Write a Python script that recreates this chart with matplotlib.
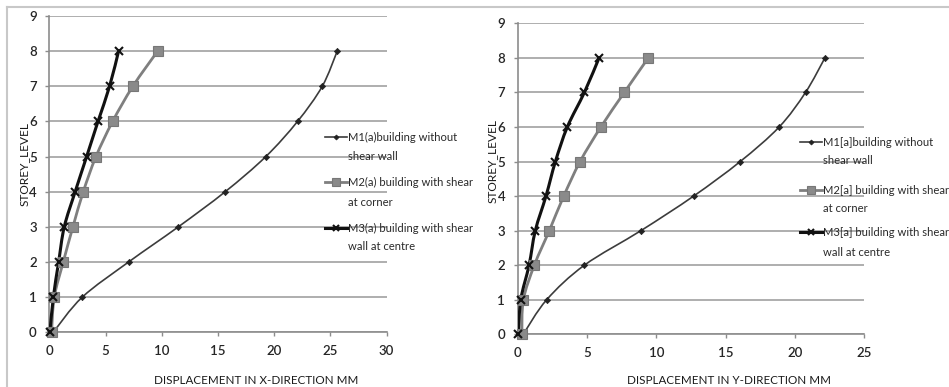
import matplotlib.pyplot as plt
import numpy as np
from matplotlib.lines import Line2D
from matplotlib.patches import PathPatch
from matplotlib.path import Path

plt.rcParams['font.family'] = ['Lato', 'DejaVu Sans']

levels = [0, 1, 2, 3, 4, 5, 6, 7, 8]

# storey displacements, X direction (mm)
x_m1 = [0.35, 2.93, 7.05, 11.47, 15.64, 19.25, 22.07, 24.27, 25.6]
x_m2 = [0.2, 0.44, 1.24, 2.1, 3.02, 4.15, 5.63, 7.43, 9.63]
x_m3 = [0.05, 0.36, 0.83, 1.33, 2.3, 3.32, 4.33, 5.36, 6.16]

# storey displacements, Y direction (mm)
y_m1 = [0.4, 2.09, 4.81, 8.89, 12.69, 16.05, 18.86, 20.76, 22.16]
y_m2 = [0.3, 0.41, 1.2, 2.28, 3.32, 4.5, 6.0, 7.69, 9.42]
y_m3 = [0.05, 0.22, 0.82, 1.27, 2.04, 2.72, 3.58, 4.81, 5.87]

labels_x = ["M1(a)building without\nshear wall",
            "M2(a) building with shear\nat corner",
            "M3(a) building with shear\nwall at centre"]
labels_y = ["M1[a]building without\nshear wall",
            "M2[a] building with shear\nat corner",
            "M3[a] building with shear\nwall at centre"]

styles = [
    dict(color='#3c3c3c', lw=1.2, marker='D', ms=3.2, mfc='#222222', mec='#222222', mew=0.5),
    dict(color='#7f7f7f', lw=2.0, marker='s', ms=6.5, mfc='#8a8a8a', mec='#777777', mew=0.8),
    dict(color='#111111', lw=2.2, marker='x', ms=6.0, mfc='#111111', mec='#111111', mew=1.5),
]

W, H = 949, 387
fig = plt.figure(figsize=(W / 100, H / 100), dpi=100)


def px(x, y):
    return x / W, 1 - y / H


def smooth_path(xs, ys):
    # Catmull-Rom through the points, written as cubic Bezier segments
    pts = np.column_stack([xs, ys]).astype(float)
    p = np.vstack([pts[0], pts, pts[-1]])
    verts = [pts[0]]
    codes = [Path.MOVETO]
    for i in range(1, len(p) - 2):
        c1 = p[i] + (p[i + 1] - p[i - 1]) / 6
        c2 = p[i + 1] - (p[i + 2] - p[i]) / 6
        verts += [c1, c2, p[i + 1]]
        codes += [Path.CURVE4] * 3
    return Path(verts, codes)


def draw_panel(rect, series, xmax, xlabel, xlab_pos, ylab_pos):
    ax = fig.add_axes(rect)
    for xs, st in zip(series, styles):
        ax.add_patch(PathPatch(smooth_path(xs, levels), facecolor='none',
                               edgecolor=st['color'], lw=st['lw'], zorder=3))
        ax.plot(xs, levels, linestyle='none', marker=st['marker'], ms=st['ms'],
                mfc=st['mfc'], mec=st['mec'], mew=st['mew'], zorder=4, clip_on=False)
    ax.set_xlim(0, xmax)
    ax.set_ylim(0, 9)
    ax.set_xticks(np.arange(0, xmax + 1, 5))
    ax.set_yticks(range(10))
    ax.yaxis.grid(True, color='#a8a8a8', lw=1.3)
    ax.set_axisbelow(True)
    for s in ('top', 'right'):
        ax.spines[s].set_visible(False)
    for s in ('left', 'bottom'):
        ax.spines[s].set_color('#8c8c8c')
        ax.spines[s].set_linewidth(1.2)
    ax.tick_params(length=3, width=1, color='#8c8c8c', labelsize=9.5,
                   labelcolor='#262626', pad=6)
    for t in ax.get_xticklabels() + ax.get_yticklabels():
        t.set_fontweight('semibold')
    ax.set_xlabel(xlabel, fontsize=8.4, color='#1a1a1a')
    ax.xaxis.set_label_coords(*xlab_pos)
    ax.xaxis.label.set_va('center')
    ax.set_ylabel('STOREY_LEVEL', fontsize=8.6, color='#1a1a1a')
    ax.yaxis.set_label_coords(*ylab_pos)
    ax.yaxis.label.set_va('center')
    return ax


def draw_legend(x0, rows, labels):
    # handle line, marker, then a two-line label
    for (y, y2), lab, st in zip(rows, labels, styles):
        a, b = px(x0, y)
        c, _ = px(x0 + 22, y)
        fig.add_artist(Line2D([a, c], [b, b], transform=fig.transFigure,
                              color=st['color'], lw=st['lw']))
        fig.add_artist(Line2D([(a + c) / 2], [b], transform=fig.transFigure,
                              marker=st['marker'], ms=st['ms'] * 0.8, mfc=st['mfc'],
                              mec=st['mec'], mew=st['mew'], linestyle='none'))
        first, second = lab.split('\n')
        tx, ty = px(x0 + 23, y)
        fig.text(tx, ty, first, fontsize=8.1, color='#2a2a2a', va='center')
        tx, ty = px(x0 + 23, y2)
        fig.text(tx, ty, second, fontsize=8.1, color='#2a2a2a', va='center')


draw_panel([49.3 / W, 54.7 / H, 337.4 / W, 316.3 / H], [x_m1, x_m2, x_m3], 30,
           'DISPLACEMENT IN X-DIRECTION MM', (0.613, -0.151), (-0.075, 0.532))
draw_panel([517.7 / W, 52.7 / H, 346.6 / W, 311.0 / H], [y_m1, y_m2, y_m3], 25,
           'DISPLACEMENT IN Y-DIRECTION MM', (0.61, -0.147), (-0.073, 0.557))

draw_legend(325, [(137, 157), (182, 203), (228, 247)], labels_x)
draw_legend(800, [(142, 161), (190, 208), (232, 252)], labels_y)

# outer frame lines
fig.add_artist(Line2D([7 / W, 1], [1 - 7 / H] * 2, transform=fig.transFigure,
                      color='#c8c8c8', lw=1.5))
fig.add_artist(Line2D([7 / W] * 2, [0, 1 - 7 / H], transform=fig.transFigure,
                      color='#c8c8c8', lw=1.5))

fig.savefig('out.png', dpi=100, facecolor='white')
